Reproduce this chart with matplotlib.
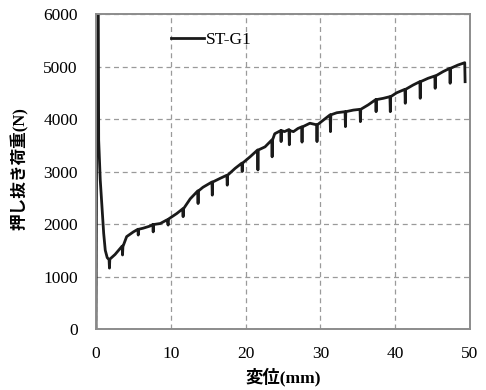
import matplotlib
matplotlib.use("Agg")
import matplotlib.pyplot as plt

plt.rcParams["font.family"] = ["Liberation Serif", "Noto Sans CJK JP"]

# load-displacement curve (mm, N)
disp = [0.0, 0.15, 0.30, 0.36, 0.57, 0.80, 1.03, 1.24, 1.50, 1.75, 1.80, 1.85,
        2.55, 3.50, 3.55, 3.60, 4.10, 5.00, 5.60, 5.65, 5.70, 6.30, 7.20,
        7.60, 7.65, 7.70, 8.60, 9.50, 9.65, 9.70, 9.75, 10.80, 11.60, 11.65, 11.70,
        12.60, 13.60, 13.65, 13.70, 14.30, 15.50, 15.55, 15.60, 16.60, 17.50, 17.55, 17.60,
        18.60, 19.50, 19.55, 19.60, 20.60, 21.60, 21.65, 21.70, 22.60, 23.50, 23.55, 23.60,
        23.90, 24.70, 24.75, 24.80, 25.20, 25.80, 25.85, 25.90, 26.40, 27.00, 27.50, 27.55, 27.60,
        28.60, 29.50, 29.55, 29.60, 30.40, 31.30, 31.35, 31.40, 32.20, 33.30, 33.35, 33.40,
        34.40, 35.30, 35.35, 35.40, 36.40, 37.40, 37.45, 37.50, 38.40, 39.30, 39.35, 39.40,
        40.20, 41.30, 41.35, 41.40, 42.40, 43.30, 43.35, 43.40, 44.40, 45.30, 45.35, 45.40,
        46.40, 47.30, 47.35, 47.40, 48.40, 49.30, 49.35]
load = [0, 6400, 6400, 3600, 2840, 2330, 1820, 1500, 1360, 1320, 1160, 1330,
        1420, 1580, 1410, 1570, 1760, 1850, 1900, 1790, 1900, 1920, 1960,
        1990, 1850, 1990, 2010, 2080, 1980, 2090, 2100, 2200, 2290, 2140, 2290,
        2480, 2630, 2390, 2630, 2700, 2800, 2550, 2800, 2870, 2930, 2740, 2930,
        3060, 3160, 3000, 3160, 3280, 3410, 3030, 3410, 3470, 3600, 3280, 3600,
        3720, 3780, 3570, 3780, 3760, 3800, 3510, 3780, 3760, 3820, 3850, 3560, 3850,
        3920, 3890, 3570, 3890, 3980, 4080, 3760, 4080, 4120, 4140, 3855, 4140,
        4170, 4185, 3950, 4185, 4270, 4370, 4140, 4370, 4394, 4426, 4140, 4426,
        4500, 4566, 4300, 4566, 4648, 4712, 4395, 4712, 4776, 4820, 4585, 4820,
        4903, 4966, 4681, 4966, 5029, 5073, 4711]

x_ticks = [0, 10, 20, 30, 40, 50]
y_ticks = [0, 1000, 2000, 3000, 4000, 5000, 6000]

fig = plt.figure(figsize=(4.86, 3.90), dpi=100)
ax = fig.add_axes([0.1975, 0.1564, 0.7695, 0.8076])

ax.plot(disp, load, color="#1a1a1a", lw=2.0, label="ST-G1")

ax.set_xlim(0, 50)
ax.set_ylim(0, 6000)
ax.set_xticks(x_ticks)
ax.set_yticks(y_ticks)
ax.grid(True, color="#9a9a9a", ls=(0, (4, 3)), lw=0.9)
ax.set_axisbelow(True)

for s in ax.spines.values():
    s.set_color("#8c8c8c")
    s.set_linewidth(1.4)

ax.tick_params(length=0, labelsize=12.5)
ax.tick_params(axis="x", pad=12)
ax.tick_params(axis="y", pad=13)

ax.set_xlabel("変位(mm)", fontweight="bold", fontsize=12.5, va="center")
ax.xaxis.set_label_coords(0.5, -0.152)
ax.set_ylabel("押し抜き荷重(N)", fontweight="bold", fontsize=12, va="center")
ax.yaxis.set_label_coords(-0.203, 0.51)

ax.legend(loc="center left", bbox_to_anchor=(0.2, 0.917), frameon=False,
          fontsize=12.5, handlelength=1.9, handletextpad=0.15,
          borderpad=0, borderaxespad=0)

fig.savefig("out.png", dpi=100)
